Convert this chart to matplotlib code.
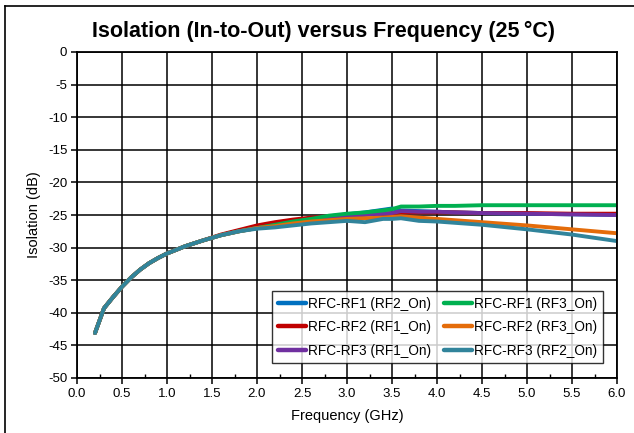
import matplotlib
matplotlib.use("Agg")
import matplotlib.pyplot as plt
from matplotlib.ticker import MultipleLocator
from matplotlib.lines import Line2D

plt.rcParams['font.family'] = ['Liberation Sans', 'DejaVu Sans']
plt.rcParams['axes.unicode_minus'] = False

# frequency points (GHz)
freq = [0.2, 0.3, 0.4, 0.5, 0.6, 0.7, 0.8, 0.9, 1.0, 1.2, 1.4, 1.6, 1.8, 2.0,
        2.2, 2.4, 2.6, 2.8, 3.0, 3.2, 3.4, 3.5, 3.6, 3.8, 4.0, 4.2, 4.5, 5.0, 5.5, 6.0]

# isolation (dB)
rf1_rf2on = [-43.1, -39.3, -37.6, -36.0, -34.6, -33.4, -32.4, -31.6, -30.9, -29.8, -28.9, -28.1, -27.4, -26.8,
             -26.3, -25.9, -25.5, -25.2, -24.9, -24.6, -24.2, -24.0, -24.3, -24.4, -24.5, -24.6, -24.7, -24.8, -24.9, -25.0]
rf2_rf1on = [-43.1, -39.3, -37.6, -36.0, -34.6, -33.4, -32.4, -31.6, -30.9, -29.8, -28.9, -28.0, -27.3, -26.6,
             -26.1, -25.7, -25.4, -25.2, -25.0, -24.9, -24.8, -24.7, -24.6, -24.6, -24.6, -24.6, -24.7, -24.7, -24.8, -24.8]
rf3_rf1on = [-43.1, -39.3, -37.6, -36.0, -34.6, -33.4, -32.4, -31.6, -30.9, -29.8, -28.9, -28.1, -27.5, -27.0,
             -26.6, -26.1, -25.7, -25.4, -25.2, -25.0, -24.8, -24.7, -24.4, -24.5, -24.5, -24.6, -24.7, -24.8, -24.9, -25.0]
rf1_rf3on = [-43.1, -39.3, -37.6, -36.0, -34.6, -33.4, -32.4, -31.6, -30.9, -29.8, -28.9, -28.1, -27.5, -27.0,
             -26.5, -26.0, -25.6, -25.1, -24.8, -24.6, -24.3, -24.1, -23.7, -23.7, -23.6, -23.6, -23.5, -23.5, -23.5, -23.5]
rf2_rf3on = [-43.1, -39.3, -37.6, -36.0, -34.6, -33.4, -32.4, -31.6, -30.9, -29.8, -28.9, -28.1, -27.5, -27.0,
             -26.7, -26.3, -26.0, -25.8, -25.6, -25.5, -25.4, -25.3, -25.2, -25.4, -25.6, -25.8, -26.1, -26.6, -27.2, -27.8]
rf3_rf2on = [-43.1, -39.3, -37.6, -36.0, -34.6, -33.4, -32.4, -31.6, -30.9, -29.8, -28.9, -28.1, -27.5, -27.1,
             -26.9, -26.6, -26.3, -26.1, -25.9, -26.1, -25.6, -25.6, -25.5, -25.9, -26.0, -26.2, -26.5, -27.2, -28.0, -29.0]

series = [
    ("RFC-RF1 (RF2_On)", rf1_rf2on, "#0070C0"),
    ("RFC-RF2 (RF1_On)", rf2_rf1on, "#C00000"),
    ("RFC-RF3 (RF1_On)", rf3_rf1on, "#7030A0"),
    ("RFC-RF1 (RF3_On)", rf1_rf3on, "#00B050"),
    ("RFC-RF2 (RF3_On)", rf2_rf3on, "#E46C0A"),
    ("RFC-RF3 (RF2_On)", rf3_rf2on, "#31849B"),
]

fig = plt.figure(figsize=(6.34, 4.33), dpi=100)
ax = fig.add_axes([77/634, 1 - 378/433, 540/634, 326/433])

for name, vals, col in series:
    ax.plot(freq, vals, color=col, lw=2.8, label=name, solid_capstyle='round')

ax.set_xlim(0, 6)
ax.set_ylim(-50, 0)
ax.xaxis.set_major_locator(MultipleLocator(0.5))
ax.xaxis.set_minor_locator(MultipleLocator(0.25))
ax.yaxis.set_major_locator(MultipleLocator(5))
ax.set_xticklabels([f"{v:.1f}" for v in ax.get_xticks()])
ax.grid(True, which='major', color='black', lw=1.1)
ax.tick_params(axis='both', which='major', direction='out', length=4, width=1.1,
               labelsize=9.5, pad=3)
ax.tick_params(axis='x', which='minor', direction='in', length=3, width=1)
for s in ax.spines.values():
    s.set_linewidth(1.3)

ax.set_xlabel("Frequency (GHz)", fontsize=10.5, labelpad=7)
ax.set_ylabel("Isolation (dB)", fontsize=10.5, labelpad=5)

leg = ax.legend(ncol=2, loc='lower right', bbox_to_anchor=(0.974, 0.046),
                fontsize=9.8, frameon=True, fancybox=False, edgecolor='black',
                handlelength=2.05, handletextpad=0.15, columnspacing=1.0,
                labelspacing=0.7, borderpad=0.4, borderaxespad=0)
leg.get_frame().set_linewidth(1.0)
for h in leg.get_lines():
    h.set_linewidth(3.2)

fig.text(0.51, 1 - 31/433, "Isolation (In-to-Out) versus Frequency (25\u2009\u00b0C)",
         ha='center', va='center', fontsize=15.5, fontweight='bold')

# outer chart border (top and left visible)
fig.add_artist(Line2D([5/634, 1], [1 - 6/433, 1 - 6/433], color='black', lw=1.2))
fig.add_artist(Line2D([5/634, 5/634], [0, 1 - 6/433], color='black', lw=1.2))

fig.savefig("out.png", dpi=100)
